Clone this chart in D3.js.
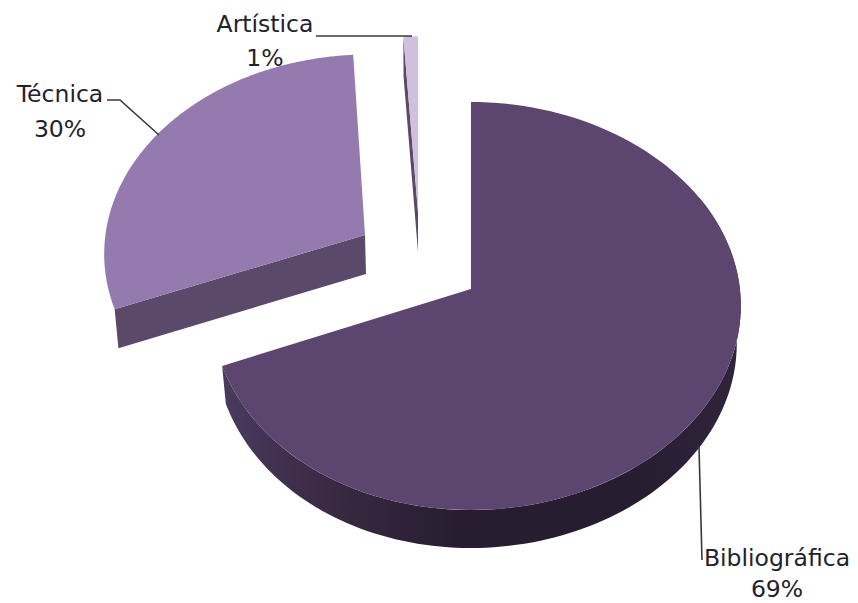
<!DOCTYPE html>
<html><head><meta charset="utf-8">
<script src="https://cdnjs.cloudflare.com/ajax/libs/d3/7.8.5/d3.min.js"></script>
<style>html,body{margin:0;background:#fff}svg{display:block}text{font-family:"DejaVu Sans",sans-serif;font-size:23.5px;fill:#22222e;text-anchor:middle}</style>
</head><body><svg id="c" width="858" height="603"></svg>
<script>
const categories = ["Bibliográfica","Técnica","Artística"];
const values = [69,30,1];
const valueLabels = ["69%","30%","1%"];
const faceColors = ["#5c4670","#957ab0","#cfc1dd"];

// layout of the exploded pseudo-3D pie (apex of each slice, scale, thickness)
const apexX = [471,365,418], apexY = [289,235,212], sliceScale = [1,0.965,0.94], depths = [38,39,40];
const skew = [0.0185,0,0], shear = [0,0.018,0], radiusX = [264,269,269];
const wallFrom = [62,null,null];
const labelX = [777,60,265], labelY = [566,102,32], valueDy = [31,35,34];
const leaders = [[[699,447],[702,560]],[[107,100],[120,100],[159,135]],[[316,36],[412,36]]];

const A = 202.6, K = 0.0833, RAD = Math.PI/180;
const svg = d3.select("#c");
const defs = svg.append("defs");
const g = defs.append("linearGradient").attr("id","wall").attr("gradientUnits","userSpaceOnUse")
  .attr("x1",222).attr("x2",741).attr("y1",0).attr("y2",0);
[[0,"#4a3a5e"],[0.2,"#3a2a44"],[0.45,"#281d30"],[0.8,"#271d30"],[1,"#30243c"]].forEach(s=>g.append("stop").attr("offset",s[0]).attr("stop-color",s[1]));

const arcs = d3.pie().sort(null)(values);
const line = d3.line();
const proj = (i,t,r=1,bottom=false) => {
  const c=Math.cos(t), s=Math.sin(t), d=1+K*c, sc=sliceScale[i];
  const yOff=r*sc*A*-c/d;
  const xOff=r*sc*(bottom?0.985:1)*radiusX[i]*s*(1+skew[i]*s)/d - shear[i]*yOff;
  return [apexX[i]+xOff, apexY[i]+yOff+(bottom?depths[i]:0)];
};
const arcPts = (i,a0,a1,bottom) => d3.range(0,121).map(n=>proj(i,a0+(a1-a0)*n/120,1,bottom));

// Técnica first, then Artística, then Bibliográfica on top
[1,2,0].forEach(i=>{
  const a=arcs[i];
  if(i===0){
    const from=wallFrom[0]*RAD;
    svg.append("path").attr("d",line([...arcPts(0,from,a.endAngle,false),...arcPts(0,from,a.endAngle,true).reverse()])+"Z").attr("fill","url(#wall)");
  } else {
    const edge = a.startAngle;
    svg.append("path").attr("d",line([proj(i,edge,0),proj(i,edge,1),proj(i,edge,1,true),[apexX[i]+(i===1?1:0),apexY[i]+depths[i]]])+"Z").attr("fill","#5a4969");
  }
  svg.append("path").attr("d",line([proj(i,0,0),...arcPts(i,a.startAngle,a.endAngle,false)])+"Z").attr("fill",faceColors[i]);
});

leaders.forEach(p=>svg.append("path").attr("d",line(p)).attr("fill","none").attr("stroke","#3a3a3a").attr("stroke-width",1.6));
categories.forEach((c,i)=>{
  svg.append("text").attr("x",labelX[i]).attr("y",labelY[i]).text(c);
  svg.append("text").attr("x",labelX[i]).attr("y",labelY[i]+valueDy[i]).text(valueLabels[i]);
});
</script></body></html>
